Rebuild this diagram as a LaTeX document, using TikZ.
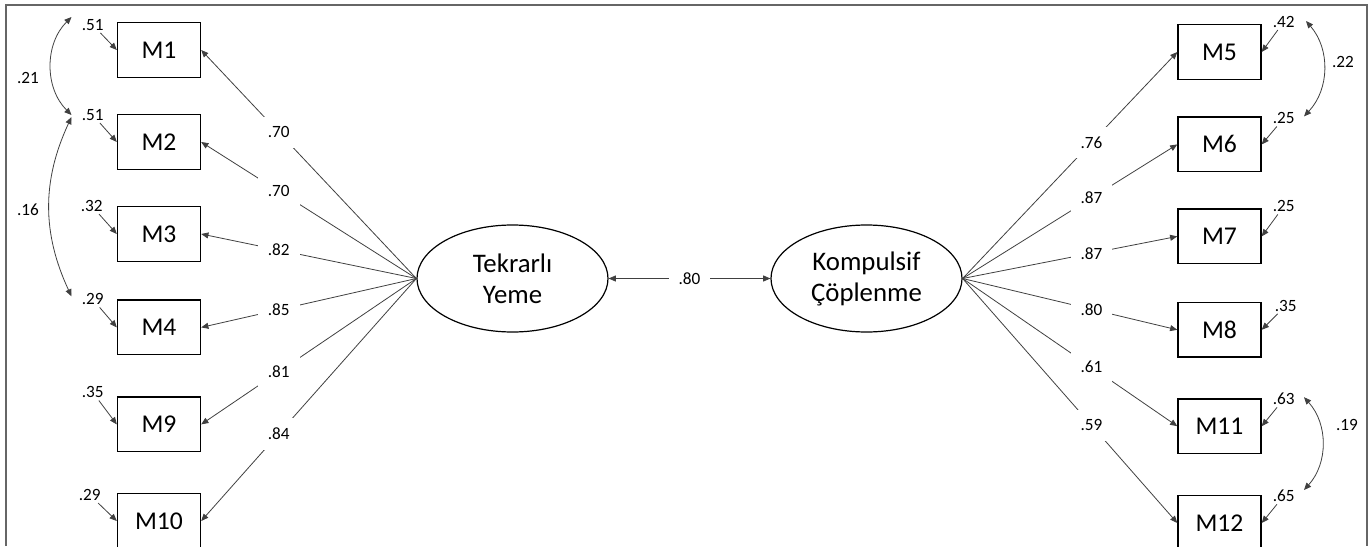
\documentclass[tikz,border=0pt]{standalone}
\usepackage{fontspec}
\setmainfont{Carlito}
\usetikzlibrary{arrows.meta,positioning,shapes.geometric}

\begin{document}
\begin{tikzpicture}[
  x=0.5pt, y=-0.5pt,
  item/.style={rectangle, draw=black, line width=0.7pt, minimum width=41.5pt, minimum height=27.3pt, inner sep=0pt, font=\fontsize{12.8}{15}\selectfont},
  latent/.style={ellipse, draw=black, line width=0.6pt, minimum width=95.5pt, minimum height=53.5pt, inner sep=0pt, align=center, font=\fontsize{13.4}{15.5}\selectfont},
  coef/.style={inner sep=1pt, font=\fontsize{8.6}{10}\selectfont},
  lab/.style={coef, fill=white, inner sep=5pt},
  line/.style={-{Triangle[length=3.6pt,width=3pt]}, line width=0.4pt, draw=black!75},
  dline/.style={{Triangle[length=3.6pt,width=3pt]}-{Triangle[length=3.6pt,width=3pt]}, line width=0.4pt, draw=black!75},
  frame/.style={draw=black!60, line width=0.9pt}
]
\useasboundingbox (0,0) rectangle (1370,546);
\draw[frame] (6,546) -- (6,5) -- (1367,5) -- (1367,546);

\node[latent] (TY) at (512.5,278.5) {Tekrarlı\\Yeme};
\node[latent] (KC) at (866.5,278.5) {Kompulsif\\Çöplenme};

\node[item] (M1) at (159,50) {M1};
\node[item, below=18pt of M1] (M2) {M2};
\node[item, below=18pt of M2] (M3) {M3};
\node[item, below=18.7pt of M3] (M4) {M4};
\node[item, below=20.5pt of M4] (M9) {M9};
\node[item, below=20.3pt of M9] (M10) {M10};

\node[item] (M5) at (1219.5,52) {M5};
\node[item, below=18.2pt of M5] (M6) {M6};
\node[item, below=18pt of M6] (M7) {M7};
\node[item, below=18.7pt of M7] (M8) {M8};
\node[item, below=20.2pt of M8] (M11) {M11};
\node[item, below=20.4pt of M11] (M12) {M12};

\node[coef] (e1) at ([shift={(-24,-25)}]M1.west) {.51};
\node[coef] (e2) at ([shift={(-24,-27)}]M2.west) {.51};
\node[coef] (e3) at ([shift={(-25,-28)}]M3.west) {.32};
\node[coef] (e4) at ([shift={(-24,-28)}]M4.west) {.29};
\node[coef] (e9) at ([shift={(-24,-32)}]M9.west) {.35};
\node[coef] (e10) at ([shift={(-27,-26)}]M10.west) {.29};

\node[coef] (e5) at ([shift={(22,-30)}]M5.east) {.42};
\node[coef] (e6) at ([shift={(22,-26)}]M6.east) {.25};
\node[coef] (e7) at ([shift={(22,-30)}]M7.east) {.25};
\node[coef] (e8) at ([shift={(24,-24)}]M8.east) {.35};
\node[coef] (e11) at ([shift={(22,-27)}]M11.east) {.63};
\node[coef] (e12) at ([shift={(22,-27)}]M12.east) {.65};

\node[coef] (c21) at (28,78) {.21};
\node[coef] (c16) at (28,210) {.16};
\node[coef] (c22) at (1343,62) {.22};
\node[coef] (c19) at (1347,425) {.19};

\draw[line] (TY.west) -- node[lab, pos=0.64] {.70} (M1.east);
\draw[line] (TY.west) -- node[lab, pos=0.64] {.70} (M2.east);
\draw[line] (TY.west) -- node[lab, pos=0.64] {.82} (M3.east);
\draw[line] (TY.west) -- node[lab, pos=0.64] {.85} (M4.east);
\draw[line] (TY.west) -- node[lab, pos=0.64] {.81} (M9.east);
\draw[line] (TY.west) -- node[lab, pos=0.64] {.84} (M10.east);

\draw[line] (KC.east) -- node[lab, pos=0.6] {.76} (M5.west);
\draw[line] (KC.east) -- node[lab, pos=0.6] {.87} (M6.west);
\draw[line] (KC.east) -- node[lab, pos=0.6] {.87} (M7.west);
\draw[line] (KC.east) -- node[lab, pos=0.6] {.80} (M8.west);
\draw[line] (KC.east) -- node[lab, pos=0.6] {.61} (M11.west);
\draw[line] (KC.east) -- node[lab, pos=0.6] {.59} (M12.west);

\draw[dline] (TY) -- node[lab] {.80} (KC);

\draw[line] (e1) -- (M1.west);
\draw[line] (e2) -- (M2.west);
\draw[line] (e3) -- (M3.west);
\draw[line] (e4) -- (M4.west);
\draw[line] (e9) -- (M9.west);
\draw[line] (e10) -- (M10.west);
\draw[line] (e5) -- (M5.east);
\draw[line] (e6) -- (M6.east);
\draw[line] (e7) -- (M7.east);
\draw[line] (e8) -- (M8.east);
\draw[line] (e11) -- (M11.east);
\draw[line] (e12) -- (M12.east);

\draw[dline] ([shift={(-8,-8)}]e1.west) to[bend right=45] ([shift={(-8,0)}]e2.west);
\draw[dline] ([shift={(-8,2)}]e2.west) to[bend right=25] ([shift={(-8,-3)}]e4.west);
\draw[dline] ([shift={(9,-1)}]e5.east) to[bend left=42] ([shift={(7,-2)}]e6.east);
\draw[dline] ([shift={(7,-2)}]e11.east) to[bend left=42] ([shift={(7,-6)}]e12.east);
\end{tikzpicture}
\end{document}
